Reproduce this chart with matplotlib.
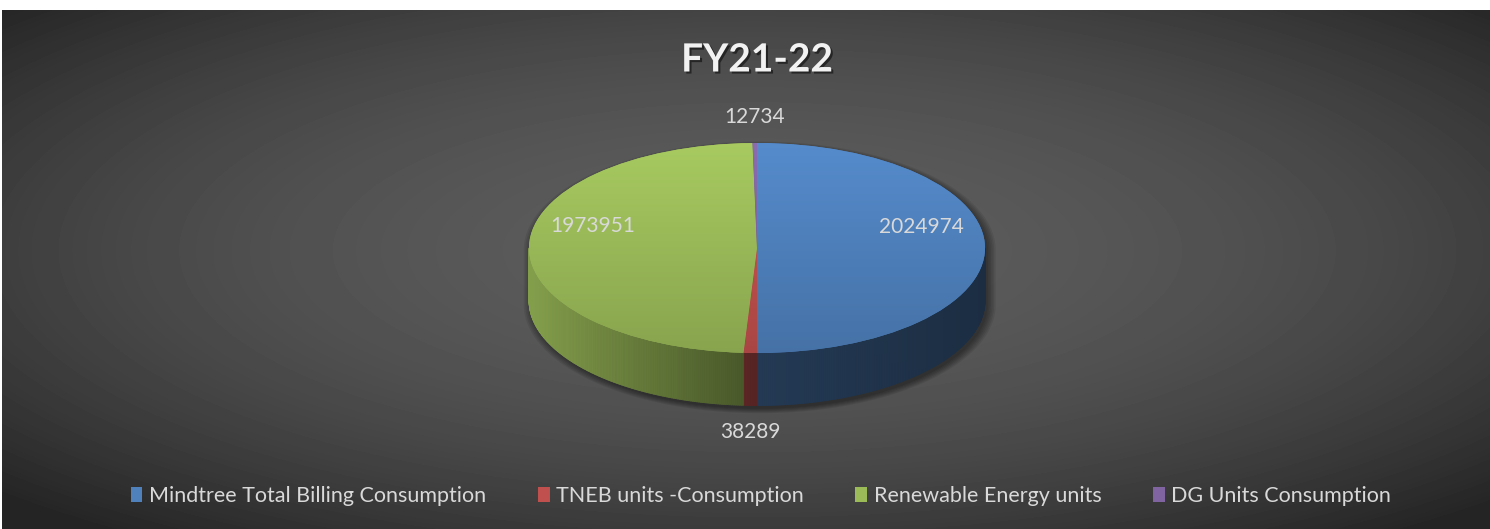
import numpy as np
import matplotlib.pyplot as plt
from matplotlib.patches import Polygon, Patch
from matplotlib.collections import PolyCollection
from matplotlib import patheffects
from matplotlib.colors import to_rgb

title = "FY21-22"
categories = ["Mindtree Total Billing Consumption", "TNEB units -Consumption",
              "Renewable Energy units", "DG Units Consumption"]
values = [2024974, 38289, 1973951, 12734]
colors = ["#4f81bd", "#c0504d", "#9bbb59", "#8064a2"]

W, H = 1490, 529
cx, cy, rx, ry = 757, 248, 228, 105   # pie centre and radii in pixels
depth = 0.5                            # pie thickness in units of ry

plt.rcParams['font.family'] = ['Lato', 'DejaVu Sans']

fig = plt.figure(figsize=(W / 100, H / 100), dpi=100, facecolor='white')

# radial background
bg = fig.add_axes([0, 0, 1, 1])
bg.set_xlim(0, W)
bg.set_ylim(H, 0)
bg.axis('off')
yy, xx = np.mgrid[10:H, 2:W]
r2 = ((xx - cx) / 745) ** 2 + ((yy - 250) / 260) ** 2
g = np.clip(92 - 28.7 * r2, 36, 92) / 255
bg.imshow(g, cmap='gray', vmin=0, vmax=1, extent=(2, W, H, 10),
          aspect='auto', interpolation='bilinear')

# pie
ax = fig.add_axes([0, 0, 1, 1])
wedges, _ = ax.pie(values, colors=colors, startangle=90, counterclock=False,
                   wedgeprops=dict(linewidth=0))
for w in wedges:
    w.set_zorder(2)


def shade(t):
    c = np.cos(np.radians(t))
    return 0.45 + 0.4 * (-c) if c < 0 else 0.45 - 0.1 * c


# drop shadow
t = np.radians(np.linspace(0, 180, 181))
tb = np.radians(np.linspace(180, 360, 181))
outline = np.r_[np.c_[np.cos(t), np.sin(t)], np.c_[np.cos(tb), np.sin(tb) - depth]]
for i in range(6):
    s = 1 + 0.007 * i
    pts = np.c_[outline[:, 0] * s + 0.012, (outline[:, 1] + depth / 2) * s - depth / 2 - 0.03]
    ax.add_patch(Polygon(pts, closed=True, facecolor='black', alpha=0.08,
                         linewidth=0, zorder=0.5))

# side walls
for w, col in zip(wedges, colors):
    base = np.array(to_rgb(col))
    a, b = w.theta1, w.theta2
    for k in range(-2, 3):
        lo, hi = max(a, -180 + 360 * k), min(b, 360 * k)
        if hi <= lo:
            continue
        ts = np.linspace(lo, hi, max(2, int((hi - lo) / 0.5) + 1))
        polys, fcs = [], []
        for t0, t1 in zip(ts[:-1], ts[1:]):
            x0, x1 = np.cos(np.radians([t0, t1]))
            y0, y1 = np.sin(np.radians([t0, t1]))
            polys.append([(x0, y0), (x1, y1), (x1, y1 - depth), (x0, y0 - depth)])
            fcs.append(np.clip(base * shade((t0 + t1) / 2), 0, 1))
        ax.add_collection(PolyCollection(polys, facecolors=fcs, edgecolors=fcs,
                                         linewidths=0.6, zorder=1))

# soft vertical gradient on the top face
for w, col in zip(wedges, colors):
    base = np.array(to_rgb(col))
    grad = np.linspace(1.08, 0.88, 100)[:, None, None] * base[None, None, :]
    im = ax.imshow(np.clip(grad, 0, 1), extent=(-1, 1, -1, 1), aspect='auto',
                   zorder=2.5, interpolation='bilinear')
    im.set_clip_path(w)

# data labels
total = sum(values)
for w, v in zip(wedges, values):
    mid = np.radians((w.theta1 + w.theta2) / 2)
    c, s = np.cos(mid), np.sin(mid)
    if v / total > 0.05:
        x, y = 0.72 * c, 0.72 * s + 0.2
    elif s > 0:
        x, y = c, 1.25 * s
    else:
        x, y = c, s - depth - 0.25
    ax.text(x, y, f"{v}", ha='center', va='center', fontsize=15,
            color='#d9d9d9', zorder=5)

ax.set_aspect('auto')
ax.set_xlim(-cx / rx, (W - cx) / rx)
ax.set_ylim(-(H - cy) / ry, cy / ry)
ax.axis('off')

fig.text(cx / W, 1 - 60 / H, title, fontsize=28, fontweight='bold', color='#f2f2f2',
         ha='center', va='center',
         path_effects=[patheffects.withSimplePatchShadow(offset=(1.5, -1.5),
                                                         shadow_rgbFace='black', alpha=0.5)])

handles = [Patch(facecolor=c, edgecolor='none') for c in colors]
fig.legend(handles, categories, loc='center', bbox_to_anchor=(761 / W, 1 - 496 / H),
           ncol=4, frameon=False, fontsize=15.5, labelcolor='#d9d9d9',
           handlelength=0.55, handleheight=0.7, handletextpad=0.3, columnspacing=2.4)

fig.savefig("out.png", dpi=100, facecolor='white')
